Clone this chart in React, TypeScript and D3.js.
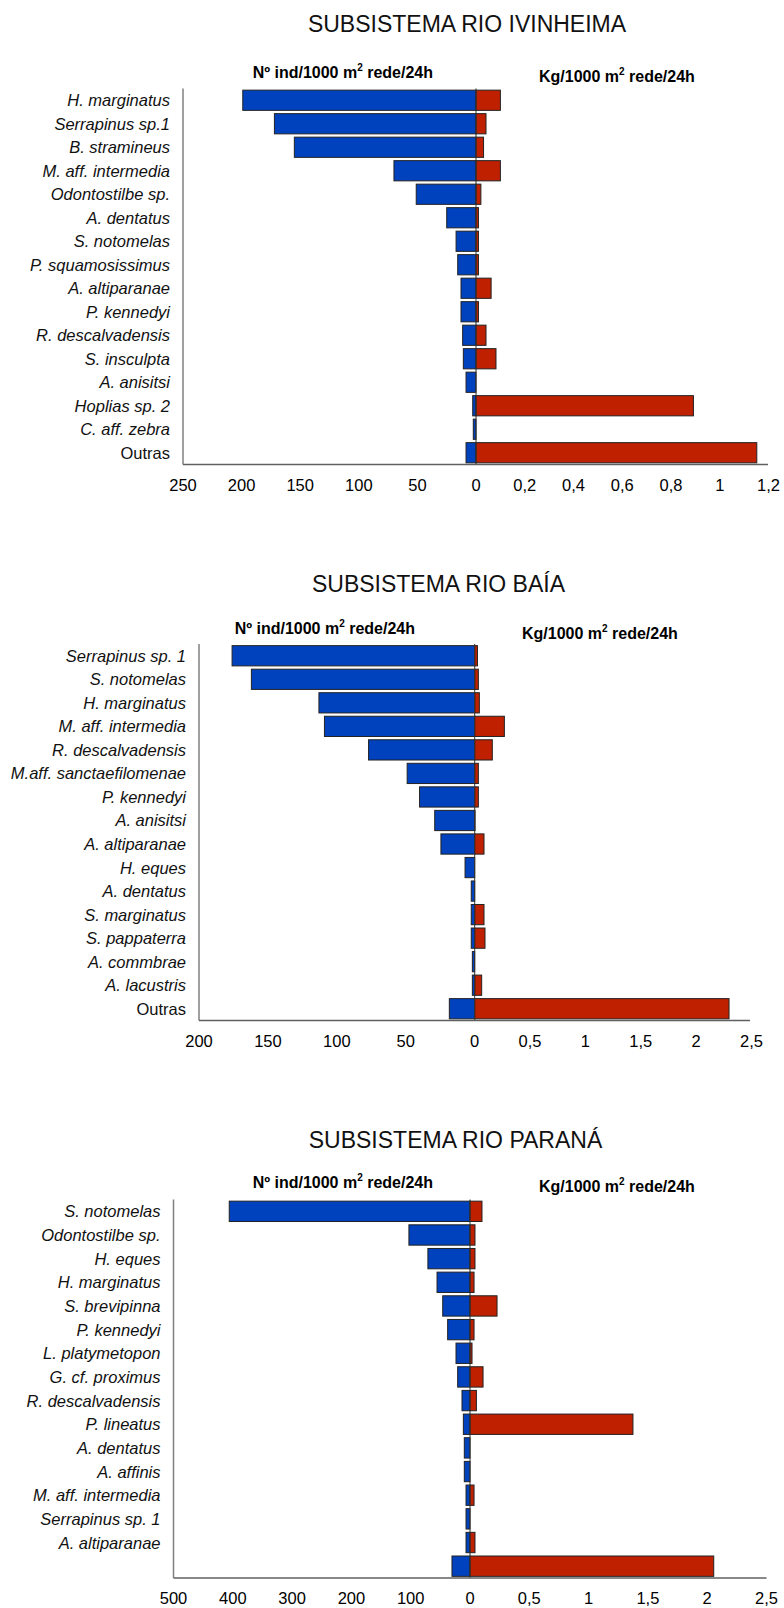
import React from "react";
import * as d3 from "d3";

// ---------------- DATA ----------------
const ivCategories = [
  "H. marginatus", "Serrapinus sp.1", "B. stramineus", "M. aff. intermedia",
  "Odontostilbe sp.", "A. dentatus", "S. notomelas", "P. squamosissimus",
  "A. altiparanae", "P. kennedyi", "R. descalvadensis", "S. insculpta",
  "A. anisitsi", "Hoplias sp. 2", "C. aff. zebra", "Outras",
];
const ivCount = [199, 172, 155, 70, 51, 25, 17, 15.6, 12.8, 12.8, 11.4, 10.8, 8.5, 2.8, 2.3, 8.5];
const ivMass = [0.1, 0.041, 0.031, 0.1, 0.02, 0.01, 0.01, 0.01, 0.062, 0.01, 0.041, 0.082, 0, 0.892, 0, 1.152];
const ivCountTicks = [250, 200, 150, 100, 50];
const ivMassTicks = [0.2, 0.4, 0.6, 0.8, 1, 1.2];

const baCategories = [
  "Serrapinus sp. 1", "S. notomelas", "H. marginatus", "M. aff. intermedia",
  "R. descalvadensis", "M.aff. sanctaefilomenae", "P. kennedyi", "A. anisitsi",
  "A. altiparanae", "H. eques", "A. dentatus", "S. marginatus",
  "S. pappaterra", "A. commbrae", "A. lacustris", "Outras",
];
const baCount = [176, 162, 113, 109, 77, 49, 40, 29, 24.5, 7, 2.5, 2.5, 2.5, 1.7, 1.7, 18.4];
const baMass = [0.025, 0.033, 0.042, 0.268, 0.159, 0.033, 0.033, 0.003, 0.084, 0, 0, 0.084, 0.093, 0, 0.063, 2.297];
const baCountTicks = [200, 150, 100, 50];
const baMassTicks = [0.5, 1, 1.5, 2, 2.5];

const paCategories = [
  "S. notomelas", "Odontostilbe sp.", "H. eques", "H. marginatus",
  "S. brevipinna", "P. kennedyi", "L. platymetopon", "G. cf. proximus",
  "R. descalvadensis", "P. lineatus", "A. dentatus", "A. affinis",
  "M. aff. intermedia", "Serrapinus sp. 1", "A. altiparanae", "",
];
const paCount = [406, 103, 71, 55.6, 46, 37.7, 23.6, 20.8, 13.5, 11.2, 9.6, 9.6, 6.7, 6.7, 6.7, 30.4];
const paMass = [0.101, 0.042, 0.042, 0.034, 0.228, 0.034, 0.017, 0.11, 0.054, 1.374, 0, 0, 0.034, 0, 0.042, 2.055];
const paCountTicks = [500, 400, 300, 200, 100];
const paMassTicks = [0.5, 1, 1.5, 2, 2.5];

// ---------------- STYLE ----------------
const BLUE = "#0042BE";
const RED = "#BE2000";
const FONT = "'Liberation Sans', Arial, Helvetica, sans-serif";

type ChartProps = {
  title: string;
  categories: string[];
  counts: number[];
  masses: number[];
  countTicks: number[];
  massTicks: number[];
  countMax: number;
  massMax: number;
  layout: {
    titleX: number; titleY: number;
    headLX: number; headLY: number;
    headRX: number; headRY: number;
    axisLeft: number; zero: number; rightEnd: number; axisRightEnd: number;
    top: number; bottom: number;
    labelX: number;
  };
};

const fmt = (v: number) => String(v).replace(".", ",");

function Header({ x, y, anchor, prefix }: { x: number; y: number; anchor: string; prefix: string }) {
  return (
    <text x={x} y={y} textAnchor={anchor} fontFamily={FONT} fontWeight="bold" fontSize={16} fill="#000">
      {prefix + "/1000 m"}
      <tspan fontSize={10} dy={-7}>2</tspan>
      <tspan dy={7}>{" rede/24h"}</tspan>
    </text>
  );
}

function Chart(p: ChartProps) {
  const L = p.layout;
  const idx = p.categories.map((_, i) => String(i));
  const y = d3.scaleBand<string>().domain(idx).range([L.top, L.bottom]).paddingInner(0.14).paddingOuter(0.07);
  const xl = d3.scaleLinear().domain([p.countMax, 0]).range([L.axisLeft, L.zero]);
  const xr = d3.scaleLinear().domain([0, p.massMax]).range([L.zero, L.rightEnd]);
  const bw = y.bandwidth();
  const tickY = L.bottom + 26;
  return (
    <g>
      <text x={L.titleX} y={L.titleY} textAnchor="middle" fontFamily={FONT} fontSize={23} fill="#111">
        {p.title}
      </text>
      <Header x={L.headLX} y={L.headLY} anchor="end" prefix="Nº ind" />
      <Header x={L.headRX} y={L.headRY} anchor="start" prefix="Kg" />
      {/* category labels */}
      {p.categories.map((c, i) => (
        <text key={"l" + i} x={L.labelX} y={(y(String(i)) as number) + bw / 2 + 6}
          textAnchor="end" fontFamily={FONT} fontStyle={c === "Outras" ? "normal" : "italic"}
          fontSize={16.5} fill="#111">
          {c}
        </text>
      ))}
      {/* count bars (left) */}
      {p.counts.map((v, i) => (
        <rect key={"c" + i} x={xl(v)} y={y(String(i))} width={Math.max(0, xl(0) - xl(v))} height={bw}
          fill={BLUE} stroke="#222" strokeWidth={1} />
      ))}
      {/* mass bars (right) */}
      {p.masses.map((v, i) =>
        v > 0 ? (
          <rect key={"m" + i} x={xr(0)} y={y(String(i))} width={xr(v) - xr(0)} height={bw}
            fill={RED} stroke="#222" strokeWidth={1} />
        ) : null
      )}
      {/* zero line */}
      <line x1={L.zero} x2={L.zero} y1={L.top} y2={L.bottom} stroke="#333" strokeWidth={1} />
      {/* axes */}
      <line x1={L.axisLeft} x2={L.axisLeft} y1={L.top} y2={L.bottom} stroke="#808080" strokeWidth={1.5} />
      <line x1={L.axisLeft} x2={L.axisRightEnd} y1={L.bottom} y2={L.bottom} stroke="#606060" strokeWidth={1.5} />
      {/* tick labels */}
      {p.countTicks.map((t) => (
        <text key={"tl" + t} x={xl(t)} y={tickY} textAnchor="middle" fontFamily={FONT} fontSize={16.5} fill="#000">
          {fmt(t)}
        </text>
      ))}
      <text x={L.zero} y={tickY} textAnchor="middle" fontFamily={FONT} fontSize={16.5} fill="#000">0</text>
      {p.massTicks.map((t) => (
        <text key={"tr" + t} x={xr(t)} y={tickY} textAnchor="middle" fontFamily={FONT} fontSize={16.5} fill="#000">
          {fmt(t)}
        </text>
      ))}
    </g>
  );
}

export default function App() {
  return (
    <svg width={784} height={1608} style={{ position: "absolute", left: 0, top: 0, background: "#fff" }}>
      <rect x={0} y={0} width={784} height={1608} fill="#fff" />
      <Chart
        title="SUBSISTEMA RIO IVINHEIMA"
        categories={ivCategories} counts={ivCount} masses={ivMass}
        countTicks={ivCountTicks} massTicks={ivMassTicks} countMax={250} massMax={1.2}
        layout={{
          titleX: 467, titleY: 32, headLX: 433, headLY: 78, headRX: 539, headRY: 82,
          axisLeft: 183, zero: 476, rightEnd: 768.5, axisRightEnd: 768,
          top: 88.5, bottom: 464.5, labelX: 170,
        }}
      />
      <Chart
        title="SUBSISTEMA RIO BAÍA"
        categories={baCategories} counts={baCount} masses={baMass}
        countTicks={baCountTicks} massTicks={baMassTicks} countMax={200} massMax={2.5}
        layout={{
          titleX: 438.5, titleY: 592, headLX: 415, headLY: 634, headRX: 522, headRY: 639,
          axisLeft: 199, zero: 474.7, rightEnd: 751.5, axisRightEnd: 750,
          top: 644, bottom: 1020.5, labelX: 186,
        }}
      />
      <Chart
        title="SUBSISTEMA RIO PARANÁ"
        categories={paCategories} counts={paCount} masses={paMass}
        countTicks={paCountTicks} massTicks={paMassTicks} countMax={500} massMax={2.5}
        layout={{
          titleX: 455.5, titleY: 1148, headLX: 433, headLY: 1188, headRX: 539, headRY: 1192,
          axisLeft: 173.5, zero: 470, rightEnd: 766.5, axisRightEnd: 766.5,
          top: 1199.5, bottom: 1578, labelX: 160.5,
        }}
      />
    </svg>
  );
}
